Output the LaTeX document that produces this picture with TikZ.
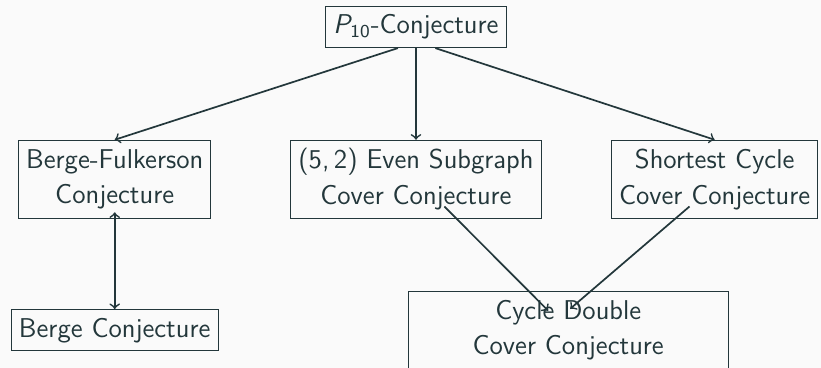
\documentclass[tikz,border=0pt]{standalone}
\usetikzlibrary{arrows,calc,positioning}
\definecolor{fg}{HTML}{23373B}
\definecolor{bg}{HTML}{FAFAFA}
\tikzset{
    block/.style = {draw=fg, rectangle, text=fg, thin,
        minimum height=0.64cm, align=center,
        font=\sffamily\fontsize{12}{15.8}\selectfont},
    tall/.style = {block, minimum height=1.21cm},
    arrow/.style = {draw=fg, ->, line width=0.75pt}
}

\begin{document}
\begin{tikzpicture}[auto, node distance=2.36cm, >=to]
    \fill [bg] (-6.448,0.4185) rectangle (6.278,-5.2855);
    \useasboundingbox (-6.448,0.4185) rectangle (6.278,-5.2855);
    \node [block] (p10) {{\slshape P}\textsubscript{10}-Conjecture};
    \node [tall, below of=p10] (esc) {(5,\,2) Even Subgraph\\Cover Conjecture};
    \node [tall, left of=esc, node distance=4.67cm] (bfc) {Berge-Fulkerson\\Conjecture};
    \node [tall, right of=esc, node distance=4.63cm] (scc) {Shortest Cycle\\Cover Conjecture};
    \node [block, below of=bfc, node distance=2.34cm] (berge) {Berge Conjecture};
    \node [tall, minimum width=4.96cm, below of=esc, xshift=2.36cm, node distance=2.34cm] (cdc) {Cycle Double\\Cover Conjecture};
    % P10 implies the three middle conjectures
    \draw [arrow] ([xshift=-0.28cm]p10.south) -- (bfc.north);
    \draw [arrow] (p10.south) -- (esc.north);
    \draw [arrow] ([xshift=0.3cm]p10.south) -- (scc.north);
    \draw [arrow, <->] ([yshift=0.1cm]bfc.south) -- (berge.north);
    % both lead to CDC
    \draw [arrow] ([xshift=0.44cm, yshift=0.19cm]esc.south) -- ([xshift=-0.31cm, yshift=-0.31cm]cdc.north);
    \draw [arrow] ([xshift=-0.39cm, yshift=0.19cm]scc.south) -- ([xshift=0.03cm, yshift=-0.28cm]cdc.north);
\end{tikzpicture}
\end{document}
